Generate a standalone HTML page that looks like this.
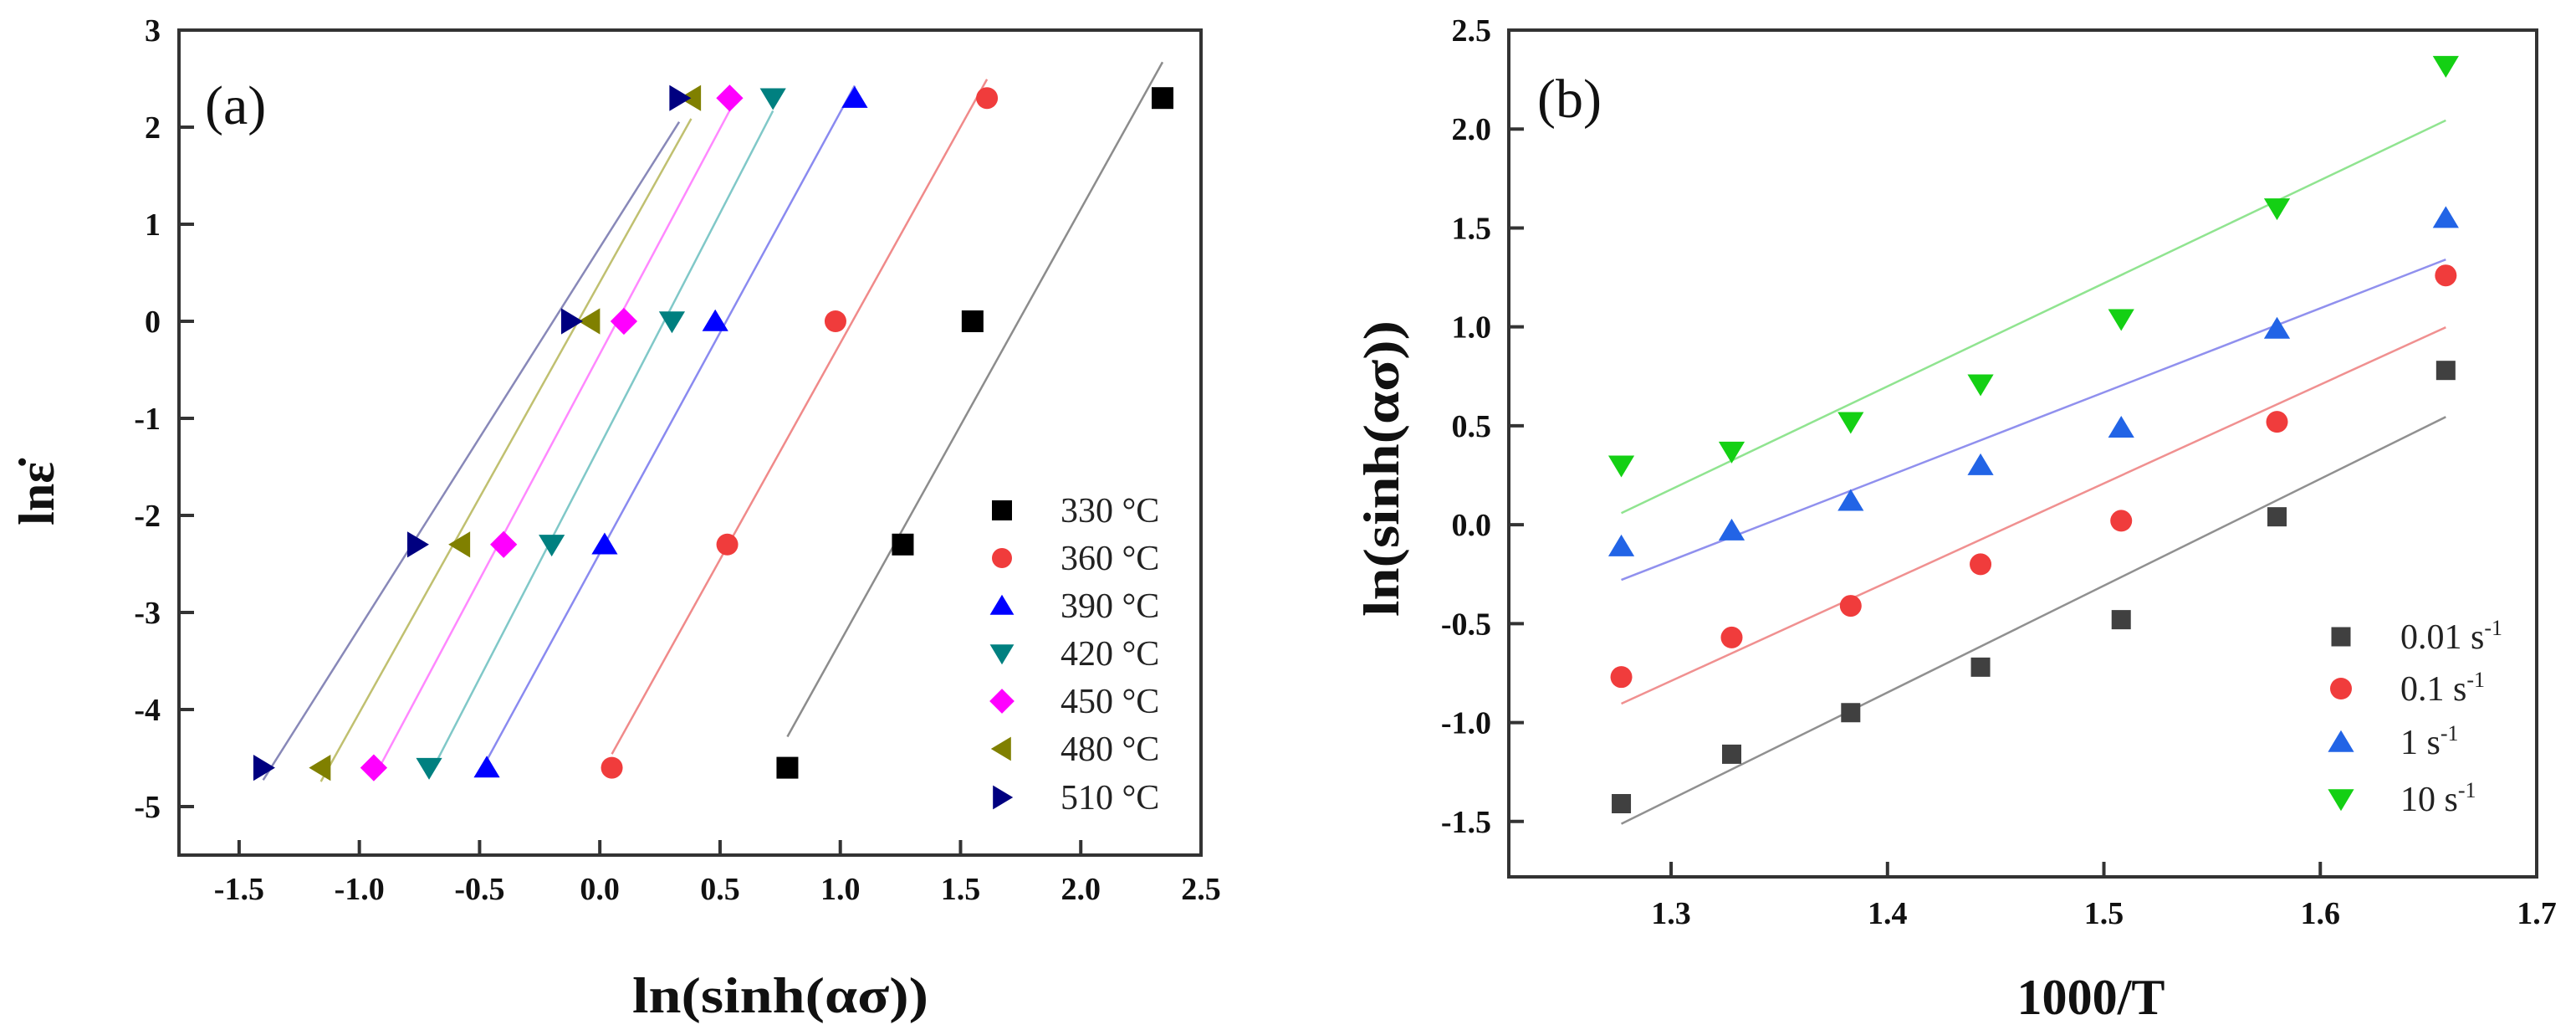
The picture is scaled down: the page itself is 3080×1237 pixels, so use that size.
<!DOCTYPE html>
<html><head><meta charset="utf-8">
<style>
html,body{margin:0;padding:0;background:#fff;}
svg{display:block;font-family:"Liberation Serif",serif;}
text{font-family:"Liberation Serif",serif;}
</style></head>
<body>
<svg id="chart" width="3080" height="1237" viewBox="0 0 3080 1237" xmlns="http://www.w3.org/2000/svg" font-family="Liberation Serif, serif"></svg>
<script>
// ---- Panel (a) data ----
const aSeries = ["330 °C","360 °C","390 °C","420 °C","450 °C","480 °C","510 °C"];
const aY = [2.3, 0, -2.3, -4.6];
const aX330 = [2.34, 1.55, 1.26, 0.78];
const aX360 = [1.61, 0.98, 0.53, 0.05];
const aX390 = [1.06, 0.48, 0.02, -0.47];
const aX420 = [0.72, 0.30, -0.20, -0.71];
const aX450 = [0.54, 0.10, -0.40, -0.94];
const aX480 = [0.38, -0.04, -0.58, -1.16];
const aX510 = [0.33, -0.12, -0.76, -1.40];
const aXTicks = ["-1.5","-1.0","-0.5","0.0","0.5","1.0","1.5","2.0","2.5"];
const aYTicks = ["-5","-4","-3","-2","-1","0","1","2","3"];
// ---- Panel (b) data ----
const bSeries = ["0.01","0.1","1","10"];
const bX = [1.277, 1.328, 1.383, 1.443, 1.508, 1.580, 1.658];
const bY001 = [-1.41, -1.16, -0.95, -0.72, -0.48, 0.04, 0.78];
const bY01 = [-0.77, -0.57, -0.41, -0.20, 0.02, 0.52, 1.26];
const bY1 = [-0.11, -0.03, 0.12, 0.30, 0.49, 0.99, 1.55];
const bY10 = [0.30, 0.37, 0.52, 0.71, 1.04, 1.60, 2.32];
const bXTicks = ["1.3","1.4","1.5","1.6","1.7"];
const bYTicks = ["-1.5","-1.0","-0.5","0.0","0.5","1.0","1.5","2.0","2.5"];

const NS="http://www.w3.org/2000/svg";
const FF="Liberation Serif, serif";
const svg=document.getElementById('chart');
function el(tag,attrs,parent){const e=document.createElementNS(NS,tag);for(const k in attrs)e.setAttribute(k,attrs[k]);(parent||svg).appendChild(e);return e;}
function txt(s,attrs,parent){attrs['font-family']=FF;const e=el('text',attrs,parent);e.textContent=s;return e;}
const TICK={'font-weight':'bold','font-size':38,fill:'#111'};
const TITLE={'font-weight':'bold','font-size':60,fill:'#111'};
const LEG={'font-size':42,fill:'#222'};
function mix(a,b){return Object.assign({},a,b);}
function fit(xs,ys){const n=xs.length;let mx=0,my=0;for(let i=0;i<n;i++){mx+=xs[i];my+=ys[i];}mx/=n;my/=n;let sxy=0,sxx=0;for(let i=0;i<n;i++){sxy+=(xs[i]-mx)*(ys[i]-my);sxx+=(xs[i]-mx)**2;}const b=sxy/sxx;return [my-b*mx,b];}
function marker(g,shape,cx,cy,s,color){
  let e;
  if(shape==='sq') e=el('rect',{x:cx-s/2,y:cy-s/2,width:s,height:s,fill:color},g);
  else if(shape==='ci') e=el('circle',{cx:cx,cy:cy,r:s/2,fill:color},g);
  else if(shape==='up') e=el('polygon',{points:`${cx},${cy-s*0.55} ${cx-s*0.6},${cy+s*0.45} ${cx+s*0.6},${cy+s*0.45}`,fill:color},g);
  else if(shape==='dn') e=el('polygon',{points:`${cx},${cy+s*0.55} ${cx-s*0.6},${cy-s*0.45} ${cx+s*0.6},${cy-s*0.45}`,fill:color},g);
  else if(shape==='di') e=el('polygon',{points:`${cx},${cy-s*0.62} ${cx+s*0.62},${cy} ${cx},${cy+s*0.62} ${cx-s*0.62},${cy}`,fill:color},g);
  else if(shape==='lf') e=el('polygon',{points:`${cx-s*0.55},${cy} ${cx+s*0.45},${cy-s*0.6} ${cx+s*0.45},${cy+s*0.6}`,fill:color},g);
  else if(shape==='rt') e=el('polygon',{points:`${cx+s*0.55},${cy} ${cx-s*0.45},${cy-s*0.6} ${cx-s*0.45},${cy+s*0.6}`,fill:color},g);
  return e;
}

// ===== Panel A =====
const A={l:214,r:1436,t:36,b:1022,x0:-1.75,x1:2.5,y0:-5.5,y1:3};
const ax=v=>A.l+(v-A.x0)/(A.x1-A.x0)*(A.r-A.l);
const ay=v=>A.b-(v-A.y0)/(A.y1-A.y0)*(A.b-A.t);
const gA=el('g',{});


const aXs=[aX330,aX360,aX390,aX420,aX450,aX480,aX510];
const aShapes=['sq','ci','up','dn','di','lf','rt'];
const aColors=['#000000','#f03c3c','#0000ff','#008080','#ff00ff','#808000','#000080'];
const aLineColors=['#8c8c8c','#f08a8a','#8a8af0','#80c8c8','#ff88ff','#c0c070','#8888b8'];
aXs.forEach((xs,i)=>{
  const [a0,b0]=fit(xs,aY);
  const xmin=Math.min(...xs),xmax=Math.max(...xs);
  const ln=el('line',{x1:ax(xmin),y1:ay(a0+b0*xmin),x2:ax(xmax),y2:ay(a0+b0*xmax),stroke:aLineColors[i],'stroke-width':2.5},gA);
  
  
});
aXs.forEach((xs,i)=>{
  xs.forEach((x,j)=>{
    const m=marker(gA,aShapes[i],ax(x),ay(aY[j]),26,aColors[i]);
    
    
  });
});
const fA=el('rect',{x:A.l,y:A.t,width:A.r-A.l,height:A.b-A.t,fill:'none',stroke:'#333','stroke-width':4},gA);


aXTicks.forEach(s=>{const v=parseFloat(s);const x=ax(v);
  el('line',{x1:x,y1:A.b,x2:x,y2:A.b-18,stroke:'#333','stroke-width':4},gA);
  const t=txt(s,mix(TICK,{x:x,y:1075,'text-anchor':'middle'}),gA);
  
  
});
aYTicks.forEach(s=>{const v=parseFloat(s);const y=ay(v);
  el('line',{x1:A.l,y1:y,x2:A.l+18,y2:y,stroke:'#333','stroke-width':4},gA);
  const t=txt(s,mix(TICK,{x:192,y:y+13,'text-anchor':'end'}),gA);
  
  
});
const tagA=txt('(a)',{x:245,y:148,'font-size':66,fill:'#111'},gA);


const xtA=txt('ln(sinh(ασ))',mix(TITLE,{x:933,y:1210,'text-anchor':'middle',textLength:354,lengthAdjust:'spacingAndGlyphs'}),gA);


const ytA=txt('lnε̇',mix(TITLE,{x:0,y:0,'text-anchor':'middle',transform:'translate(64,590) rotate(-90)'}),gA);


const legYA=[610,667,724,781,838,895,953];
aSeries.forEach((s,i)=>{
  const g=el('g',{},gA);
  
  
  marker(g,aShapes[i],1198,legYA[i],24,aColors[i]);
  txt(s,mix(LEG,{x:1268,y:legYA[i]+14}),g);
});

// ===== Panel B =====
const B={l:1804,r:3033,t:36,b:1048,x0:1.225,x1:1.7,y0:-1.78,y1:2.5};
const bx=v=>B.l+(v-B.x0)/(B.x1-B.x0)*(B.r-B.l);
const by=v=>B.b-(v-B.y0)/(B.y1-B.y0)*(B.b-B.t);
const gB=el('g',{});


const bYs=[bY001,bY01,bY1,bY10];
const bShapes=['sq','ci','up','dn'];
const bColors=['#404040','#f03c3c','#2264e6','#14d014'];
const bLineColors=['#909090','#f09090','#9090ee','#90e490'];
bYs.forEach((ys,i)=>{
  const [a0,b0]=fit(bX,ys);
  const xmin=Math.min(...bX),xmax=Math.max(...bX);
  const ln=el('line',{x1:bx(xmin),y1:by(a0+b0*xmin),x2:bx(xmax),y2:by(a0+b0*xmax),stroke:bLineColors[i],'stroke-width':2.5},gB);
  
  
});
bYs.forEach((ys,i)=>{
  ys.forEach((y,j)=>{
    const m=marker(gB,bShapes[i],bx(bX[j]),by(y),i===0?23:26,bColors[i]);
    
    
  });
});
const fB=el('rect',{x:B.l,y:B.t,width:B.r-B.l,height:B.b-B.t,fill:'none',stroke:'#333','stroke-width':4},gB);


bXTicks.forEach(s=>{const v=parseFloat(s);const x=bx(v);
  el('line',{x1:x,y1:B.b,x2:x,y2:B.b-18,stroke:'#333','stroke-width':4},gB);
  const t=txt(s,mix(TICK,{x:x,y:1104,'text-anchor':'middle'}),gB);
  
  
});
bYTicks.forEach(s=>{const v=parseFloat(s);const y=by(v);
  el('line',{x1:B.l,y1:y,x2:B.l+18,y2:y,stroke:'#333','stroke-width':4},gB);
  const t=txt(s,mix(TICK,{x:1783,y:y+13,'text-anchor':'end'}),gB);
  
  
});
const tagB=txt('(b)',{x:1838,y:140,'font-size':66,fill:'#111'},gB);


const xtB=txt('1000/T',mix(TITLE,{x:2500,y:1212,'text-anchor':'middle',textLength:177,lengthAdjust:'spacingAndGlyphs'}),gB);


const ytB=txt('ln(sinh(ασ))',mix(TITLE,{x:0,y:0,'text-anchor':'middle',textLength:354,lengthAdjust:'spacingAndGlyphs',transform:'translate(1672,560) rotate(-90)'}),gB);


const legYB=[761,823,887,955];
bSeries.forEach((s,i)=>{
  const g=el('g',{},gB);
  
  
  marker(g,bShapes[i],2799,legYB[i],i===0?23:26,bColors[i]);
  const t=txt(s+' s',mix(LEG,{x:2870,y:legYB[i]+14}),g);
  const sup=el('tspan',{dy:-16,'font-size':26},t);
  sup.textContent='-1';
});
</script>
</body></html>
